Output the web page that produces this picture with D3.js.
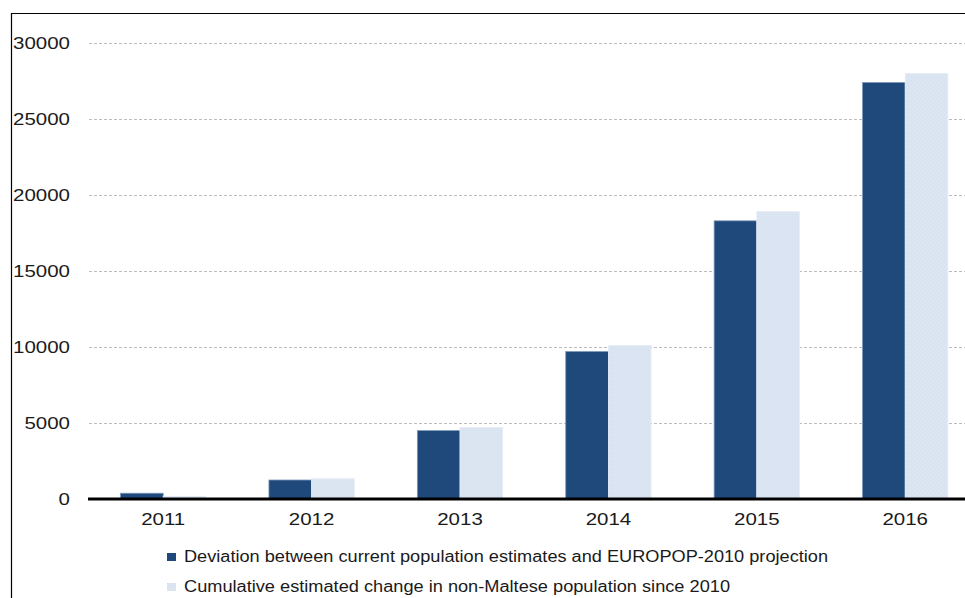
<!DOCTYPE html>
<html>
<head>
<meta charset="utf-8">
<script src="https://cdn.jsdelivr.net/npm/d3@7"></script>
<style>
  html, body { margin: 0; padding: 0; background: #fff; }
  svg { display: block; font-family: "Liberation Sans", Arial, sans-serif; }
</style>
</head>
<body>
<svg id="chart" width="965" height="598"></svg>
<script>
const years = ["2011", "2012", "2013", "2014", "2015", "2016"];
const seriesNames = [
  "Deviation between current population estimates and EUROPOP-2010 projection",
  "Cumulative estimated change in non-Maltese population since 2010"
];
const deviation = [380, 1250, 4500, 9700, 18300, 27400];
const cumulativeNonMaltese = [180, 1340, 4700, 10100, 18900, 28000];
const yTicks = [0, 5000, 10000, 15000, 20000, 25000, 30000];
const seriesColors = ["#1f497b", "#dce6f2"];

const svg = d3.select("#chart");
const W = 965, H = 598;

// pattern for light bars
const defs = svg.append("defs");
const pat = defs.append("pattern").attr("id", "hatch")
  .attr("patternUnits", "userSpaceOnUse").attr("width", 4).attr("height", 4);
pat.append("rect").attr("width", 4).attr("height", 4).attr("fill", "#dce6f2");
pat.append("rect").attr("x", 0).attr("y", 0).attr("width", 1).attr("height", 1).attr("fill", "#cfdbeb");
pat.append("rect").attr("x", 2).attr("y", 2).attr("width", 1).attr("height", 1).attr("fill", "#cfdbeb");

// frame
svg.append("line").attr("x1", 11.5).attr("x2", 11.5).attr("y1", 13).attr("y2", H).attr("stroke", "#000").attr("stroke-width", 1.2);
svg.append("line").attr("x1", 11).attr("x2", W).attr("y1", 13.5).attr("y2", 13.5).attr("stroke", "#000").attr("stroke-width", 1.2);

const y = d3.scaleLinear().domain([0, 30000]).range([499, 43]);
const x0 = d3.scaleBand().domain(years).range([89, 979.4]).paddingInner(0.425).paddingOuter(0.2125);
const x1 = d3.scaleBand().domain([0, 1]).range([0, x0.bandwidth()]);

// gridlines
svg.append("g").selectAll("line").data(yTicks.filter(d => d > 0)).join("line")
  .attr("x1", 89).attr("x2", W)
  .attr("y1", d => Math.round(y(d)) + 0.5).attr("y2", d => Math.round(y(d)) + 0.5)
  .attr("stroke", "#bdbdbd").attr("stroke-width", 1).attr("stroke-dasharray", "3,2");

// y axis
const yAxis = svg.append("g").attr("transform", "translate(70,0)")
  .call(d3.axisLeft(y).tickValues(yTicks).tickSize(0).tickFormat(d3.format("d")));
yAxis.select(".domain").remove();
yAxis.selectAll("text")
  .attr("x", 0).attr("dy", "0.35em")
  .attr("text-anchor", "end")
  .attr("transform", "scale(1.28,1)")
  .attr("font-size", 16).attr("fill", "#1a1a1a")
  .attr("font-family", "Liberation Sans, Arial, sans-serif");

// bars
const seriesData = [deviation, cumulativeNonMaltese];
const groups = svg.append("g").selectAll("g").data(years).join("g")
  .attr("transform", d => `translate(${x0(d)},0)`);
groups.selectAll("rect").data((d, i) => seriesData.map((s, k) => ({ k, v: s[i] }))).join("rect")
  .attr("x", d => x1(d.k))
  .attr("width", x1.bandwidth())
  .attr("y", d => y(d.v))
  .attr("height", d => y(0) - y(d.v))
  .attr("fill", d => d.k === 0 ? seriesColors[0] : "url(#hatch)")
  .attr("stroke", d => d.k === 0 ? "#7d98bb" : "#e6edf6")
  .attr("stroke-width", 0.8);

// x axis
const xAxis = svg.append("g").attr("transform", `translate(0,${y(0)})`)
  .call(d3.axisBottom(x0).tickSize(0));
xAxis.select(".domain").remove();
xAxis.selectAll("text")
  .attr("y", 26).attr("dy", null)
  .attr("transform", "scale(1.28,1)")
  .attr("font-size", 16).attr("fill", "#1a1a1a")
  .attr("font-family", "Liberation Sans, Arial, sans-serif");
xAxis.selectAll(".tick").each(function(d) {
  const cx = x0(d) + x0.bandwidth() / 2;
  d3.select(this).attr("transform", `translate(${cx},0)`);
  d3.select(this).select("text").attr("x", 0);
});
svg.append("line").attr("x1", 88).attr("x2", W).attr("y1", y(0)).attr("y2", y(0))
  .attr("stroke", "#000").attr("stroke-width", 3);

// legend
const legendY = [557, 587];
const legendLen = [644, 546];
const lg = svg.append("g").selectAll("g").data(seriesNames).join("g")
  .attr("transform", (d, i) => `translate(167,${legendY[i]})`);
lg.append("rect").attr("x", 0).attr("y", -4).attr("width", 9).attr("height", 8)
  .attr("fill", (d, i) => i === 0 ? seriesColors[0] : "url(#hatch)");
lg.append("text").attr("x", 17).attr("y", 0).attr("dy", "0.32em")
  .attr("font-size", 16).attr("fill", "#1a1a1a")
  .attr("textLength", (d, i) => legendLen[i]).attr("lengthAdjust", "spacingAndGlyphs")
  .text(d => d);
</script>
</body>
</html>
